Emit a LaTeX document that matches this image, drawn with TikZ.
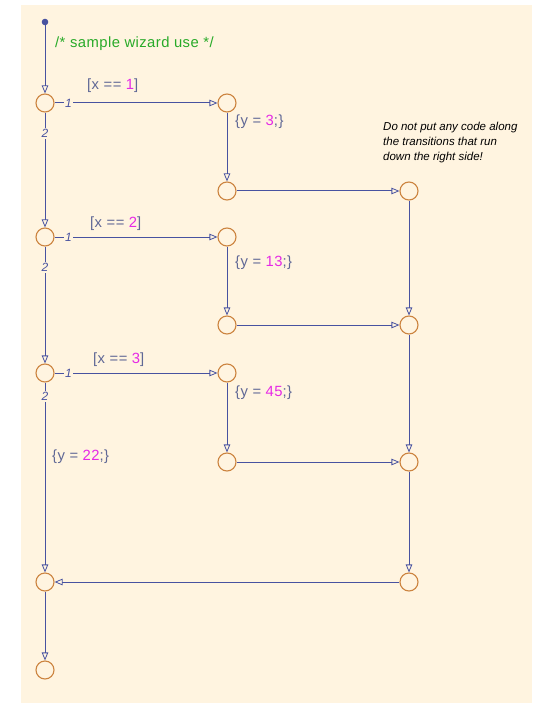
\documentclass[tikz,border=0pt]{standalone}
\usepackage{fontspec}
\setmainfont{Liberation Sans}
\newfontfamily\condfont[LetterSpace=3]{Liberation Sans}
\usetikzlibrary{arrows.meta}
\definecolor{bgc}{RGB}{255,244,224}
\definecolor{linec}{RGB}{72,82,160}
\definecolor{circc}{RGB}{204,132,64}
\definecolor{lblc}{RGB}{96,104,150}
\definecolor{numc}{RGB}{230,40,230}
\definecolor{cmtc}{RGB}{40,170,40}
\tikzset{
  junc/.style={circle,draw=circc,line width=1.1pt,minimum size=18pt,inner sep=0pt},
  trans/.style={draw=linec,line width=1pt,-{Triangle[open,length=8pt,width=6.5pt,line width=0.8pt]}},
  cond/.style={text=lblc,font=\condfont\fontsize{14.8}{14.8}\selectfont,inner sep=0pt,anchor=west},
  ordlbl/.style={fill=bgc,text=linec,font=\fontsize{12}{12}\selectfont\itshape,inner sep=1.5pt},
  notetxt/.style={font=\fontsize{11.5}{15}\selectfont\itshape,align=left,anchor=west,inner sep=0pt},
}
\newcommand{\nm}[1]{\textcolor{numc}{#1}}
\begin{document}
\begin{tikzpicture}[x=1pt,y=-1pt]
\useasboundingbox (0,0) rectangle (535,703);
\fill[bgc] (21,5) rectangle (532,703);
% default transition dot
\fill[linec] (45,22) circle (3.3pt);
\coordinate (dflt) at (45,22);
% junctions
\node[junc] (j1) at (45,103) {};
\node[junc] (a1) at (227,103) {};
\node[junc] (b1) at (227,191) {};
\node[junc] (r1) at (409,191) {};
\node[junc] (j2) at (45,237) {};
\node[junc] (a2) at (227,237) {};
\node[junc] (b2) at (227,325) {};
\node[junc] (r2) at (409,325) {};
\node[junc] (j3) at (45,373) {};
\node[junc] (a3) at (227,373) {};
\node[junc] (b3) at (227,462) {};
\node[junc] (r3) at (409,462) {};
\node[junc] (jm) at (45,582) {};
\node[junc] (rm) at (409,582) {};
\node[junc] (jf) at (45,670) {};
% transitions
\draw[trans] (dflt) -- (j1);
\draw[trans] (j1) -- node[ordlbl,pos=0.085]{1} (a1);
\draw[trans] (j1) -- node[ordlbl,pos=0.18]{2} (j2);
\draw[trans] (a1) -- (b1);
\draw[trans] (b1) -- (r1);
\draw[trans] (j2) -- node[ordlbl,pos=0.085]{1} (a2);
\draw[trans] (j2) -- node[ordlbl,pos=0.18]{2} (j3);
\draw[trans] (a2) -- (b2);
\draw[trans] (b2) -- (r2);
\draw[trans] (r1) -- (r2);
\draw[trans] (j3) -- node[ordlbl,pos=0.085]{1} (a3);
\draw[trans] (j3) -- node[ordlbl,pos=0.075]{2} (jm);
\draw[trans] (a3) -- (b3);
\draw[trans] (b3) -- (r3);
\draw[trans] (r2) -- (r3);
\draw[trans] (r3) -- (rm);
\draw[trans] (rm) -- (jm);
\draw[trans] (jm) -- (jf);
% labels
\node[cond,text=cmtc] (cmt) at (55,44) {/* sample wizard use */};
\node[cond] (c1) at (87,86) {[x == \nm{1}]};
\node[cond] (c2) at (90,224) {[x == \nm{2}]};
\node[cond] (c3) at (93,360) {[x == \nm{3}]};
\node[cond] (e1) at (235,122) {\{y = \nm{3};\}};
\node[cond] (e2) at (235,263) {\{y = \nm{13};\}};
\node[cond] (e3) at (235,393) {\{y = \nm{45};\}};
\node[cond] (e4) at (52,457) {\{y = \nm{22};\}};
\node[notetxt] (note) at (383,143) {Do not put any code along\\the transitions that run\\down the right side!};
\end{tikzpicture}
\end{document}
